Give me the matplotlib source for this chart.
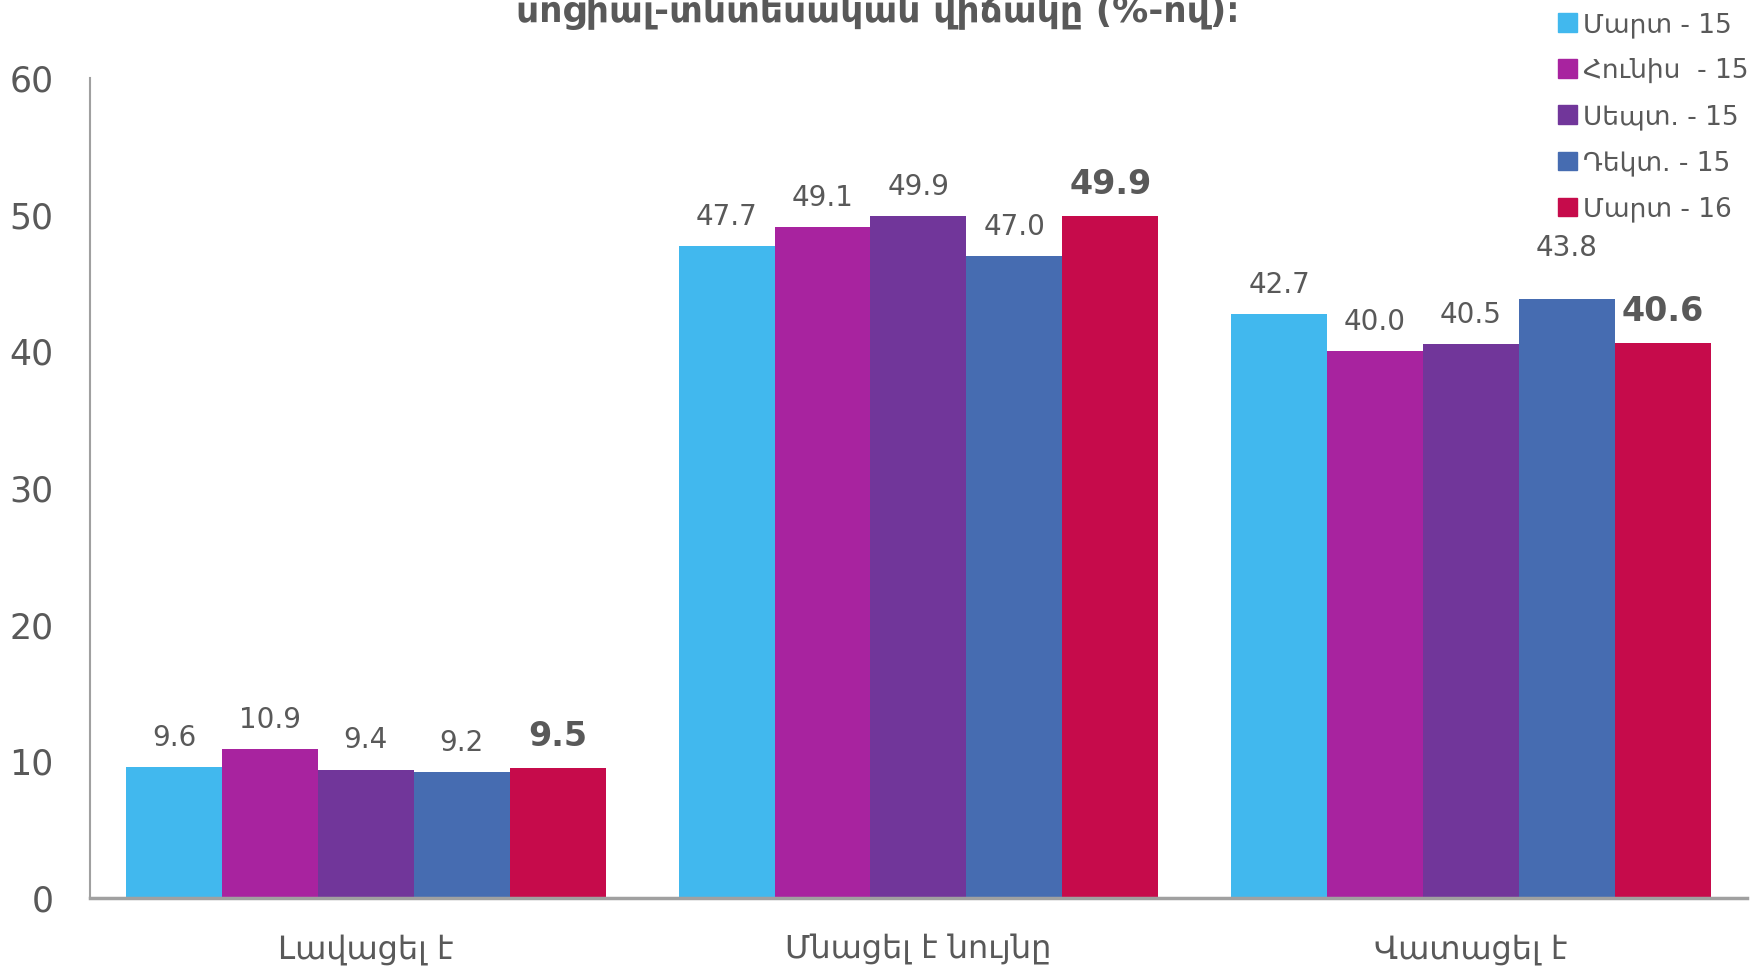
import numpy as np
import matplotlib.pyplot as plt
from matplotlib.patches import Patch

categories = ['Լավացել է', 'Մնացել է նույնը', 'Վատացել է']
series = ['Մարտ - 15', 'Հունիս  - 15', 'Սեպտ. - 15', 'Դեկտ. - 15', 'Մարտ - 16']
mar15 = [9.6, 47.7, 42.7]
jun15 = [10.9, 49.1, 40.0]
sep15 = [9.4, 49.9, 40.5]
dec15 = [9.2, 47.0, 43.8]
mar16 = [9.5, 49.9, 40.6]
values = [mar15, jun15, sep15, dec15, mar16]
colors = ['#41B8EE', '#A8239F', '#71369A', '#466CB1', '#C60B4B']
title = 'սոցիալ-տնտեսական վիճակը (%-ով)։'

grey = '#595959'
plt.rcParams['font.family'] = ['DejaVu Sans']

fig = plt.figure(figsize=(17.56, 9.71), dpi=100)
ax = fig.add_axes([0.051, 0.0752, 0.944, 0.8445])

x = np.arange(len(categories))
w = 0.1736
for i, (vals, c) in enumerate(zip(values, colors)):
    pos = x + (i - 2) * w
    ax.bar(pos, vals, width=w, color=c, linewidth=0)
    last = i == len(values) - 1
    for j, (p, v) in enumerate(zip(pos, vals)):
        off = 1.1
        if i == 3 and j == 2:
            off = 2.7  # label lifted in the original
        ax.text(p, v + off, f'{v:.1f}', ha='center', va='bottom',
                color=grey, fontsize=24 if last else 20,
                fontweight='bold' if last else 'normal')

ax.set_xlim(-0.5, 2.5)
ax.set_ylim(0, 60)
ax.set_yticks(range(0, 61, 10))
ax.set_xticks(x)
ax.set_xticklabels(categories)
ax.tick_params(axis='y', length=0, pad=26, labelsize=25, labelcolor=grey)
ax.tick_params(axis='x', length=0, pad=26, labelsize=23, labelcolor=grey)
for s in ['top', 'right']:
    ax.spines[s].set_visible(False)
ax.spines['left'].set_color('#A0A0A0')
ax.spines['bottom'].set_color('#A0A0A0')
ax.spines['left'].set_linewidth(1.5)
ax.spines['bottom'].set_linewidth(2.5)

handles = [Patch(color=c, label=s) for c, s in zip(colors, series)]
fig.legend(handles=handles, loc='upper left', bbox_to_anchor=(0.887, 1 - 12 / 971),
           frameon=False, fontsize=19, labelcolor=grey, handlelength=0.72,
           handleheight=0.72, handletextpad=0.25, labelspacing=0.76,
           borderpad=0, borderaxespad=0)

fig.text(0.5, 1 - 22 / 971, title, ha='center', va='baseline',
         fontsize=26, fontweight='bold', color=grey)

fig.savefig('out.png', dpi=100)
